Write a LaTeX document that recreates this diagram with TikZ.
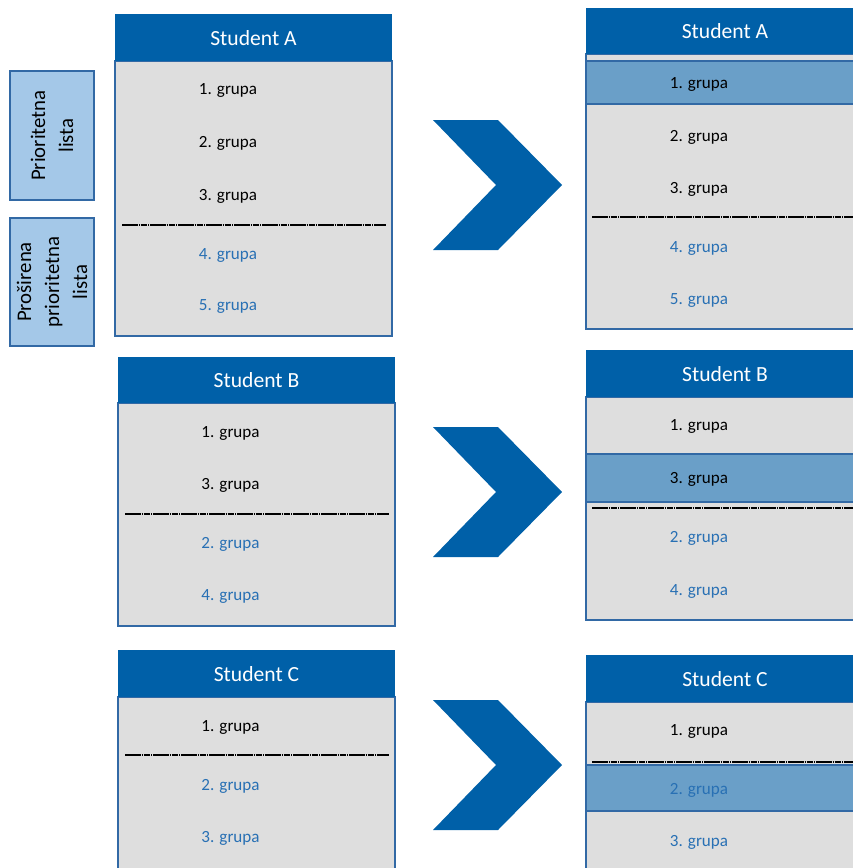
\documentclass[tikz,border=0pt]{standalone}
\usepackage{fontspec}
\setmainfont{Carlito}
\definecolor{hdblue}{RGB}{0,96,168}
\definecolor{bodygray}{RGB}{222,222,222}
\definecolor{hiblue}{RGB}{106,159,200}
\definecolor{txtblue}{RGB}{40,112,180}
\definecolor{sidefill}{RGB}{164,200,232}
\definecolor{edgeblue}{RGB}{50,105,165}
\begin{document}
\begin{tikzpicture}[x=0.75pt,y=-0.75pt,line join=miter,
  hdtext/.style={text=white,font=\fontsize{16.2}{18}\selectfont},
  row/.style={text=black,font=\fontsize{12.8}{14}\selectfont},
  rowblue/.style={row,text=txtblue},
  body/.style={fill=bodygray,draw=edgeblue,line width=0.8pt},
  hirow/.style={fill=hiblue,draw=edgeblue,line width=0.8pt},
  sepline/.style={draw=black,line width=1.1pt,dash pattern=on 5pt off 0.5pt on 1pt off 0.5pt},
  sidebox/.style={fill=sidefill,draw=edgeblue,line width=0.8pt},
  sidetext/.style={rotate=90,align=center,font=\fontsize{15.6}{21}\selectfont}]
  \useasboundingbox (0,0) rectangle (853,868);
  \clip (0,0) rectangle (853,868);
  % side labels
  \draw[sidebox] (10,71) rectangle (94,200);
  \node[sidetext] (prio) at (52,135.5) {Prioritetna\\lista};
  \draw[sidebox] (10,218) rectangle (94,346);
  \node[sidetext] (prosir) at (52,282) {Proširena\\prioritetna\\lista};
  % student A, before
  \draw[body] (115,61) rectangle (392,336);
  \fill[hdblue] (115,14) rectangle (392,61);
  \node[hdtext] (hA) at (253.5,38) {Student A};
  \node[row] (a1) at (228,90) {1. grupa};
  \node[row] (a2) at (228,143) {2. grupa};
  \node[row] (a3) at (228,196) {3. grupa};
  \draw[sepline] (122,225) -- (386,225);
  \node[rowblue] (a4) at (228,255) {4. grupa};
  \node[rowblue] (a5) at (228,306) {5. grupa};
  % student B, before
  \draw[body] (118,403) rectangle (395,626);
  \fill[hdblue] (118,357) rectangle (395,403);
  \node[hdtext] (hB) at (256.5,380.5) {Student B};
  \node[row] (b1) at (230.5,433) {1. grupa};
  \node[row] (b3) at (230.5,485) {3. grupa};
  \draw[sepline] (125,514) -- (389,514);
  \node[rowblue] (b2) at (230.5,544) {2. grupa};
  \node[rowblue] (b4) at (230.5,596) {4. grupa};
  % student C, before
  \draw[body] (118,697) rectangle (395,880);
  \fill[hdblue] (118,650) rectangle (395,697);
  \node[hdtext] (hC) at (256.5,674) {Student C};
  \node[row] (c1) at (230.5,727) {1. grupa};
  \draw[sepline] (125,755) -- (389,755);
  \node[rowblue] (c2) at (230.5,786) {2. grupa};
  \node[rowblue] (c3) at (230.5,838) {3. grupa};
  % chevrons
  \fill[hdblue] (433,120) -- (498,120) -- (562,185) -- (498,250) -- (433,250) -- (496,185) -- cycle;
  \fill[hdblue] (433,427) -- (498,427) -- (562,492) -- (498,557) -- (433,557) -- (496,492) -- cycle;
  \fill[hdblue] (433,700) -- (498,700) -- (562,765) -- (498,830) -- (433,830) -- (496,765) -- cycle;
  % student A, after
  \draw[body] (586,54) rectangle (864,329);
  \draw[hirow] (586,61) rectangle (864,104);
  \fill[hdblue] (586,8) rectangle (864,54);
  \node[hdtext] (rA) at (725,31.5) {Student A};
  \node[row] (ra1) at (699,84) {1. grupa};
  \node[row] (ra2) at (699,137) {2. grupa};
  \node[row] (ra3) at (699,189) {3. grupa};
  \draw[sepline] (592,217) -- (864,217);
  \node[rowblue] (ra4) at (699,248) {4. grupa};
  \node[rowblue] (ra5) at (699,300) {5. grupa};
  % student B, after
  \draw[body] (586,397) rectangle (864,620);
  \draw[hirow] (586,454) rectangle (864,502);
  \fill[hdblue] (586,350) rectangle (864,397);
  \node[hdtext] (rB) at (725,374) {Student B};
  \node[row] (rb1) at (699,426) {1. grupa};
  \node[row] (rb3) at (699,479) {3. grupa};
  \draw[sepline] (592,508) -- (864,508);
  \node[rowblue] (rb2) at (699,538) {2. grupa};
  \node[rowblue] (rb4) at (699,591) {4. grupa};
  % student C, after
  \draw[body] (586,702) rectangle (864,880);
  \draw[hirow] (586,765) rectangle (864,811);
  \fill[hdblue] (586,655) rectangle (864,702);
  \node[hdtext] (rC) at (725,679) {Student C};
  \node[row] (rc1) at (699,731) {1. grupa};
  \draw[sepline] (592,762) -- (864,762);
  \node[rowblue] (rc2) at (699,790) {2. grupa};
  \node[rowblue] (rc3) at (699,842) {3. grupa};
\end{tikzpicture}
\end{document}
